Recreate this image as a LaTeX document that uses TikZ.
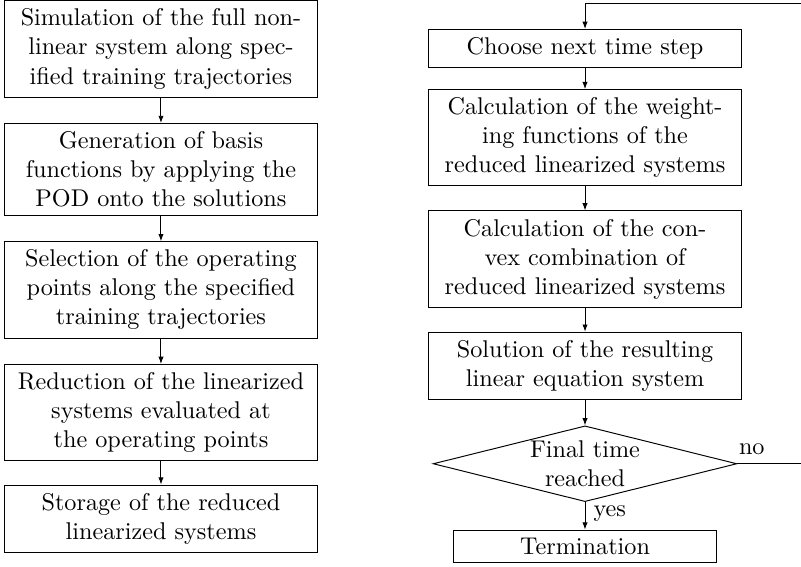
\documentclass[tikz,border=0pt]{standalone}
\usepackage{tikz}
\usetikzlibrary{positioning,arrows.meta,shapes.geometric}

\begin{document}
\begin{tikzpicture}[
  node distance=0.37cm,
  box/.style={rectangle, draw, text width=4.30cm, align=center},
  dbox/.style={diamond, draw, aspect=4, inner sep=0pt, align=center,
               minimum width=4.41cm, minimum height=1.10cm},
  tbox/.style={rectangle, draw, minimum width=3.82cm, align=center},
  arr/.style={-{Latex[length=3pt, width=2.2pt]}},
]
\useasboundingbox (0,0) rectangle (11.634,-8.235);
%─── Left column: offline phase ───────────────────────────────────────────
\node[box, anchor=north] (sim) at (2.338,-0.005)
  {Simulation of the full non-\\linear system along spec-\\ified training trajectories};
\node[box, below=of sim] (pod)
  {Generation of basis\\functions by applying the\\POD onto the solutions};
\node[box, below=of pod] (sel)
  {Selection of the operating\\points along the specified\\training trajectories};
\node[box, below=of sel] (red)
  {Reduction of the linearized\\systems evaluated at\\the operating points};
\node[box, below=0.34cm of red] (sto)
  {Storage of the reduced\\linearized systems};
\draw[arr] (sim) -- (pod);
\draw[arr] (pod) -- (sel);
\draw[arr] (sel) -- (red);
\draw[arr] (red) -- (sto);
%─── Right column: online phase ───────────────────────────────────────────
\node[box, anchor=north] (nxt) at (8.497,-0.421) {Choose next time step};
\node[box, below=0.31cm of nxt] (wgt)
  {Calculation of the weight-\\ing functions of the\\reduced linearized systems};
\node[box, below=0.35cm of wgt] (cvx)
  {Calculation of the con-\\vex combination of\\reduced linearized systems};
\node[box, below=0.35cm of cvx] (sol)
  {Solution of the resulting\\linear equation system};
\node[dbox, below=0.37cm of sol] (dec) {Final time\\reached};
\node[tbox, below=0.40cm of dec] (term) {Termination};
\draw[arr] (nxt) -- (wgt);
\draw[arr] (wgt) -- (cvx);
\draw[arr] (cvx) -- (sol);
\draw[arr] (sol) -- (dec);
\draw[arr] (dec) -- node[right, pos=0.4]{yes} (term);
% loop back
\coordinate (back) at (11.655,-0.044);
\draw[arr] (dec.east) node[above right, inner xsep=0.5pt]{no} -- (dec.east -| back)
  -- (back) -| (nxt.north);
\end{tikzpicture}
\end{document}
